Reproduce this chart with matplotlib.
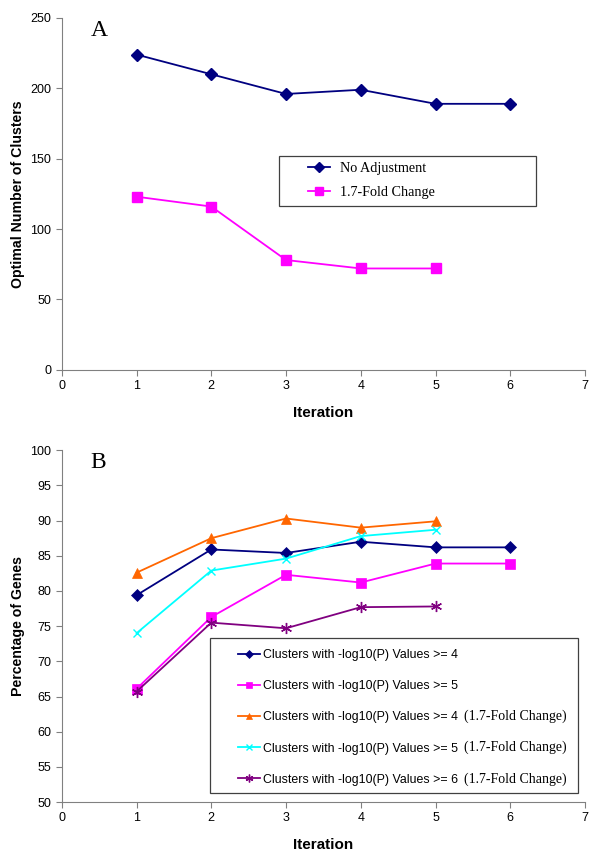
import matplotlib
matplotlib.use('Agg')
import matplotlib.pyplot as plt
from matplotlib.patches import Rectangle

plt.rcParams['font.family'] = 'Liberation Sans'

iters_a = [1, 2, 3, 4, 5, 6]
no_adjust = [224, 210, 196, 199, 189, 189]
fold_change = [123, 116, 78, 72, 72]

iters_b = [1, 2, 3, 4, 5, 6]
p4 = [79.4, 85.9, 85.4, 87.0, 86.2, 86.2]
p5 = [66.1, 76.3, 82.3, 81.2, 83.9, 83.9]
p4_fc = [82.6, 87.5, 90.3, 89.0, 89.9]
p5_fc = [74.0, 82.9, 84.6, 87.8, 88.7]
p6_fc = [65.7, 75.5, 74.7, 77.7, 77.8]

labels_b = ['Clusters with -log10(P) Values >= 4',
            'Clusters with -log10(P) Values >= 5',
            'Clusters with -log10(P) Values >= 4',
            'Clusters with -log10(P) Values >= 5',
            'Clusters with -log10(P) Values >= 6']
suffix_b = ['', '', '(1.7-Fold Change)', '(1.7-Fold Change)', '(1.7-Fold Change)']

fig = plt.figure(figsize=(6, 8.56), dpi=100)
axA = fig.add_axes([0.103, 0.568, 0.872, 0.411])
axB = fig.add_axes([0.103, 0.063, 0.872, 0.411])


def style(ax):
    ax.spines['top'].set_visible(False)
    ax.spines['right'].set_visible(False)
    ax.spines['left'].set_color('#808080')
    ax.spines['bottom'].set_color('#808080')
    ax.tick_params(direction='out', length=4, color='#808080', labelsize=9)
    ax.set_xlim(0, 7)
    ax.set_xticks(range(0, 8))
    ax.set_xlabel('Iteration', fontsize=11, fontweight='bold', labelpad=10)
    ax.yaxis.set_label_coords(-0.071, 0.5)


def box(ax, x0, y0, x1, y1):
    ax.add_patch(Rectangle((x0, y0), x1 - x0, y1 - y0, transform=ax.transAxes,
                           facecolor='white', edgecolor='#404040', lw=0.9,
                           zorder=4.5, clip_on=False))


# panel A
axA.plot(iters_a, no_adjust, color='#000080', marker='D', markersize=6, lw=1.3,
         label='No Adjustment')
axA.plot(iters_a[:len(fold_change)], fold_change, color='#FF00FF', marker='s',
         markersize=7, lw=1.3, label='1.7-Fold Change')
style(axA)
axA.set_ylim(0, 250)
axA.set_yticks(range(0, 251, 50))
axA.set_ylabel('Optimal Number of Clusters', fontsize=10.2, fontweight='bold')
axA.text(0.055, 0.995, 'A', transform=axA.transAxes, fontsize=17,
         family='Liberation Serif', va='top')
box(axA, 0.415, 0.466, 0.906, 0.608)
axA.legend(loc='upper left', bbox_to_anchor=(0.470, 0.591), frameon=False,
           prop={'family': 'Liberation Serif', 'size': 10.2},
           handlelength=1.55, handletextpad=0.7, labelspacing=0.79,
           borderpad=0, borderaxespad=0, markerscale=0.8)

# panel B
series_b = [(p4, '#000080', 'D', 6), (p5, '#FF00FF', 's', 7),
            (p4_fc, '#FF6600', '^', 7), (p5_fc, '#00FFFF', 'x', 6),
            (p6_fc, '#800080', (6, 2, 0), 8)]
for (vals, col, mk, ms), lab in zip(series_b, labels_b):
    axB.plot(iters_b[:len(vals)], vals, color=col, marker=mk, markersize=ms,
             lw=1.3, label=lab, markeredgewidth=1 if mk in ('x', (6, 2, 0)) else 0.5)
style(axB)
axB.set_ylim(50, 100)
axB.set_yticks(range(50, 101, 5))
axB.set_ylabel('Percentage of Genes', fontsize=10.2, fontweight='bold')
axB.text(0.055, 0.995, 'B', transform=axB.transAxes, fontsize=17,
         family='Liberation Serif', va='top')
box(axB, 0.283, 0.0256, 0.987, 0.466)
legB = axB.legend(loc='upper left', bbox_to_anchor=(0.3365, 0.4347), frameon=False,
                  prop={'size': 8.9}, handlelength=1.78, handletextpad=0.24,
                  labelspacing=1.55, borderpad=0, borderaxespad=0, markerscale=0.7)

fig.canvas.draw()
inv = fig.transFigure.inverted()
for t, suf in zip(legB.get_texts(), suffix_b):
    if suf:
        bb = t.get_window_extent()
        x, y = inv.transform((bb.x1 + 6, (bb.y0 + bb.y1) / 2 + 1))
        fig.text(x, y, suf, family='Liberation Serif', fontsize=10, va='center',
                 zorder=10)

fig.savefig('out.png', dpi=100)
